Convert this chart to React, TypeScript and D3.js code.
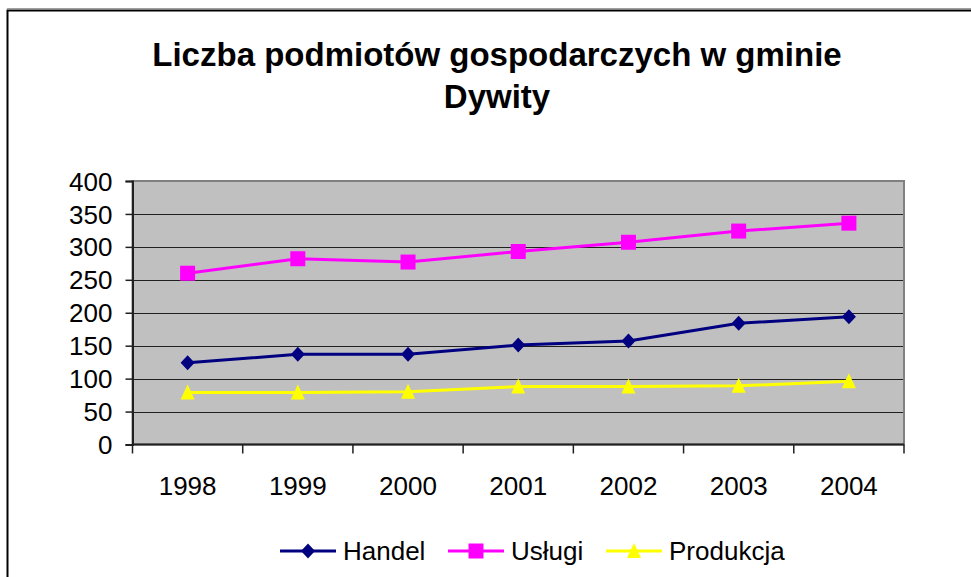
import React, { useEffect, useRef } from 'react';
import * as d3 from 'd3';

// data
const years = ['1998', '1999', '2000', '2001', '2002', '2003', '2004'];
const handel = [124, 137, 137, 151, 157, 184, 194];
const uslugi = [260, 282, 277, 293, 307, 324, 336];
const produkcja = [79, 79, 80, 88, 88, 89, 96];
const yTicks = [0, 50, 100, 150, 200, 250, 300, 350, 400];
const titleLines = ['Liczba podmiotów gospodarczych w gminie', 'Dywity'];

const FONT = '"Liberation Sans", Arial, sans-serif';

const series = [
  { name: 'Handel', values: handel, color: '#000080', marker: 'diamond', legendX: 280 },
  { name: 'Usługi', values: uslugi, color: '#FF00FF', marker: 'square', legendX: 448 },
  { name: 'Produkcja', values: produkcja, color: '#FFFF00', marker: 'triangle', legendX: 606 },
];

const markerPath = (kind: string) => {
  if (kind === 'diamond') return 'M0,-7.5L7,0L0,7.5L-7,0Z';
  if (kind === 'square') return 'M-7.5,-7.5H7.5V7.5H-7.5Z';
  return 'M0,-8L7,7L-7,7Z';
};

const App = () => {
  const svgRef = useRef<SVGSVGElement>(null);

  useEffect(() => {
    const svg = d3.select(svgRef.current);
    svg.selectAll('*').remove();

    const width = 971;
    const height = 577;
    const plot = { left: 132.5, right: 904, top: 181, bottom: 444.5 };

    // outer chart frame (runs past the window edges)
    svg.append('line')
      .attr('x1', 7).attr('x2', width).attr('y1', 8.5).attr('y2', 8.5)
      .attr('stroke', '#a0a0a0').attr('stroke-width', 1);
    svg.append('rect')
      .attr('x', 7.5).attr('y', 10.5)
      .attr('width', width + 20).attr('height', height + 20)
      .attr('fill', 'white').attr('stroke', 'black').attr('stroke-width', 2);

    // title
    svg.append('text')
      .attr('x', 497)
      .attr('font-family', FONT)
      .attr('font-weight', 'bold')
      .attr('font-size', 33)
      .attr('text-anchor', 'middle')
      .selectAll('tspan')
      .data(titleLines)
      .join('tspan')
      .attr('x', 497)
      .attr('y', (d, i) => 66 + i * 42)
      .text((d) => d);

    const xScale = d3.scaleBand().domain(years).range([plot.left, plot.right]).padding(0);
    const yScale = d3.scaleLinear().domain([0, 400]).range([plot.bottom, plot.top]);
    const cx = (d: string) => (xScale(d) as number) + xScale.bandwidth() / 2;

    // plot area
    svg.append('rect')
      .attr('x', plot.left).attr('y', plot.top)
      .attr('width', plot.right - plot.left).attr('height', plot.bottom - plot.top)
      .attr('fill', '#C0C0C0').attr('stroke', '#808080').attr('stroke-width', 2);

    // gridlines
    svg.append('g')
      .selectAll('line')
      .data(yTicks.filter((t) => t > 0 && t < 400))
      .join('line')
      .attr('x1', plot.left).attr('x2', plot.right - 1)
      .attr('y1', (d) => Math.round(yScale(d)) + 0.5)
      .attr('y2', (d) => Math.round(yScale(d)) + 0.5)
      .attr('stroke', '#202020').attr('stroke-width', 1);

    // y axis
    const yAxis = d3.axisLeft(yScale).tickValues(yTicks).tickSize(7).tickPadding(13);
    const gy = svg.append('g').attr('transform', `translate(${plot.left},0)`).call(yAxis);
    gy.select('.domain').attr('stroke', '#202020').attr('stroke-width', 2);
    gy.selectAll('.tick line').attr('stroke', '#202020').attr('stroke-width', 1.5);
    gy.selectAll('.tick text')
      .attr('font-family', FONT).attr('font-size', 26).attr('fill', 'black')
      .attr('dy', '0.35em');

    // x axis, ticks on category boundaries
    const gx = svg.append('g').attr('transform', `translate(0,${plot.bottom})`);
    gx.append('line')
      .attr('x1', plot.left).attr('x2', plot.right)
      .attr('stroke', '#202020').attr('stroke-width', 2);
    gx.selectAll('.xtick')
      .data([...years.map((d) => xScale(d) as number), plot.right])
      .join('line')
      .attr('class', 'xtick')
      .attr('x1', (d) => d).attr('x2', (d) => d)
      .attr('y1', 0).attr('y2', 9)
      .attr('stroke', '#202020').attr('stroke-width', 1.5);
    gx.selectAll('.xlabel')
      .data(years)
      .join('text')
      .attr('class', 'xlabel')
      .attr('x', (d) => cx(d))
      .attr('y', 50.5)
      .attr('text-anchor', 'middle')
      .attr('font-family', FONT).attr('font-size', 26)
      .text((d) => d);

    // lines and markers
    const line = d3.line<number>()
      .x((d, i) => cx(years[i]))
      .y((d) => yScale(d));

    series.forEach((s) => {
      svg.append('path')
        .datum(s.values)
        .attr('d', line)
        .attr('fill', 'none')
        .attr('stroke', s.color)
        .attr('stroke-width', 3);
      svg.append('g')
        .selectAll('path')
        .data(s.values)
        .join('path')
        .attr('d', markerPath(s.marker))
        .attr('transform', (d, i) => `translate(${cx(years[i])},${yScale(d)})`)
        .attr('fill', s.color);
    });

    // legend
    const legendY = 551;
    const lg = svg.append('g')
      .selectAll('g')
      .data(series)
      .join('g')
      .attr('transform', (d) => `translate(${d.legendX},${legendY})`);
    lg.append('line')
      .attr('x1', 0).attr('x2', 56)
      .attr('stroke', (d) => d.color).attr('stroke-width', 3);
    lg.append('path')
      .attr('d', (d) => markerPath(d.marker))
      .attr('transform', 'translate(28,0)')
      .attr('fill', (d) => d.color);
    lg.append('text')
      .attr('x', 63)
      .attr('dy', '0.35em')
      .attr('font-family', FONT).attr('font-size', 26)
      .text((d) => d.name);
  }, []);

  return (
    <svg
      ref={svgRef}
      width={971}
      height={577}
      style={{ position: 'absolute', left: 0, top: 0, background: 'white' }}
    />
  );
};

export default App;
